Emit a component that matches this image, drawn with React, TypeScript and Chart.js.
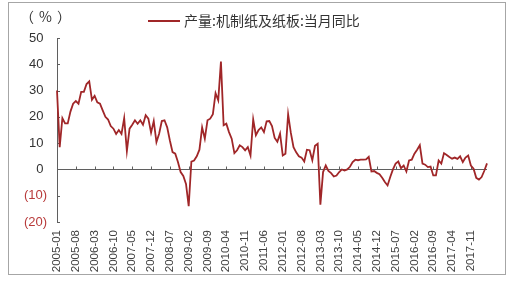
import React, { useEffect, useRef } from "react";
import { Chart, registerables } from "chart.js";

Chart.register(...registerables);

// ---- data ----
const startYear = 2005;
const monthCount = 161;
const categories: string[] = [];
for (let i = 0; i < monthCount; i++) {
  const yr = startYear + Math.floor(i / 12);
  const mo = (i % 12) + 1;
  categories.push(`${yr}-${String(mo).padStart(2, "0")}`);
}
const tickEvery = 7;
const yTicks = [50, 40, 30, 20, 10, 0, -10, -20];
const seriesLabel = "产量:机制纸及纸板:当月同比";
const unitLabel = "（%）";

const paperYoY = [
  30, 8.5, 19.5, 17.5, 17.5, 22, 25, 26, 25, 29.5, 29.5, 32.5,
  33.5, 26.5, 28, 25.5, 25, 22.5, 20, 19, 16.5, 15.5, 13.5, 15,
  13.5, 19.5, 7, 15.5, 17, 18.7, 17.4, 18.7, 17, 20.6, 19.3, 14,
  18.4, 10.4, 13.6, 18.4, 18.7, 16, 11, 6.6, 6, 2.8, -1, -2.5,
  -5.5, -14, 3, 3.4, 5, 7.5, 16, 11.7, 18.7, 19.3, 21, 29,
  26.3, 41, 16.8, 17.4, 14.2, 11.7, 6.2, 7.3, 9.2, 8.5, 7.3, 8.5,
  5.3, 19, 13, 15, 16, 14.2, 18.3, 18.4, 16.5, 12, 10.5, 13.6,
  5.3, 6, 21, 14, 8.5, 6.5, 5, 4.5, 3, 7.5, 7.3, 3.5,
  9, 9.8, -13.4, -1, 1.5, -0.6, -1.4, -2.7, -2.3, -1, 0, -0.4,
  0, 1, 2.8, 3.7, 3.5, 3.7, 3.7, 3.8, 4.8, -0.8, -0.6, -1.3,
  -1.8, -3.2, -4.8, -6.1, -2.9, 0, 2.2, 3, 0.5, 1.5, -0.8, 3.4,
  3.7, 6, 7.5, 9.2, 2.2, 1.8, 0.9, 1.1, -2.3, -2.3, 3.4, 2.2,
  6.2, 5.5, 4.7, 4.1, 4.5, 4, 5, 2.8, 4.5, 5.3, 1.5, 0.3,
  -3.2, -3.9, -2.9, -0.5, 2.3,
];

// ---- styles ----
const LINE_COLOR = "#a02628";
const AXIS_COLOR = "#5f5f5f";
const TEXT_COLOR = "#333333";
const NEG_COLOR = "#b83a3a";
const FONT = '"Liberation Sans", Arial, "Noto Sans CJK SC", sans-serif';
const CJK_FONT = '"Noto Sans CJK SC", "Liberation Sans", sans-serif';

const overlay = {
  id: "overlay",
  beforeDatasetsDraw(chart: any) {
    const { ctx, chartArea, scales } = chart;
    const xs = scales.x;
    const ys = scales.y;
    const y0 = Math.round(ys.getPixelForValue(0)) + 0.5;
    ctx.save();
    ctx.strokeStyle = AXIS_COLOR;
    ctx.lineWidth = 1;
    ctx.beginPath();
    ctx.moveTo(chartArea.left, y0);
    ctx.lineTo(chartArea.right, y0);
    for (let i = 0; i < categories.length; i += tickEvery) {
      const px = Math.round(xs.getPixelForValue(i)) + 0.5;
      ctx.moveTo(px, y0);
      ctx.lineTo(px, y0 - 3);
    }
    for (const v of yTicks) {
      const py = Math.round(ys.getPixelForValue(v)) + 0.5;
      ctx.moveTo(chartArea.left, py);
      ctx.lineTo(chartArea.left + 3, py);
    }
    ctx.stroke();
    ctx.restore();
  },
  afterDraw(chart: any) {
    const { ctx } = chart;
    ctx.save();
    // unit label
    ctx.fillStyle = TEXT_COLOR;
    ctx.font = `14px ${CJK_FONT}`;
    ctx.textBaseline = "middle";
    ctx.textAlign = "left";
    try {
      (ctx as any).letterSpacing = "5px";
    } catch (e) {}
    ctx.fillText(unitLabel, 20, 17);
    try {
      (ctx as any).letterSpacing = "0px";
    } catch (e) {}
    // legend
    ctx.strokeStyle = LINE_COLOR;
    ctx.lineWidth = 2;
    ctx.beginPath();
    ctx.moveTo(148, 21);
    ctx.lineTo(180, 21);
    ctx.stroke();
    ctx.fillStyle = TEXT_COLOR;
    ctx.fillText(seriesLabel, 184, 21);
    ctx.restore();
  },
};

export default function App() {
  const canvasRef = useRef<HTMLCanvasElement | null>(null);

  useEffect(() => {
    if (!canvasRef.current) return;
    const chart = new Chart(canvasRef.current, {
      type: "line",
      data: {
        labels: categories,
        datasets: [
          {
            label: seriesLabel,
            data: paperYoY,
            borderColor: LINE_COLOR,
            backgroundColor: LINE_COLOR,
            borderWidth: 1.8,
            pointRadius: 0,
            tension: 0,
            fill: false,
          },
        ],
      },
      options: {
        responsive: false,
        animation: false,
        devicePixelRatio: 1,
        layout: { padding: { left: 0, right: 34, top: 38, bottom: 0 } },
        plugins: { legend: { display: false }, tooltip: { enabled: false } },
        scales: {
          x: {
            type: "category",
            offset: false,
            grid: { display: false, drawTicks: false },
            border: { display: false },
            ticks: {
              autoSkip: false,
              maxRotation: 90,
              minRotation: 90,
              padding: 8,
              color: "#404040",
              font: { family: FONT, size: 11.5 },
              callback: (_v: any, i: number) => (i % tickEvery === 0 ? categories[i] : null),
            },
            afterFit: (s: any) => {
              s.height = 64;
            },
          },
          y: {
            min: -20,
            max: 50,
            grid: { display: false, drawTicks: false },
            border: { display: true, color: AXIS_COLOR, width: 1 },
            afterBuildTicks: (s: any) => {
              s.ticks = yTicks.map((v) => ({ value: v }));
            },
            ticks: {
              padding: 10,
              font: { family: FONT, size: 13 },
              color: (c: any) => (c.tick && c.tick.value < 0 ? NEG_COLOR : TEXT_COLOR),
              callback: (v: any) => (v < 0 ? `(${-v})` : `${v} `),
            },
            afterFit: (s: any) => {
              s.width = 57;
            },
          },
        },
      },
      plugins: [overlay],
    } as any);
    return () => chart.destroy();
  }, []);

  return (
    <div>
      <div style={{ position: "absolute", left: 0, top: 0, width: 521, height: 286 }}>
        <canvas ref={canvasRef} width={521} height={286} style={{ display: "block" }} />
      </div>
      <div
        style={{
          position: "absolute",
          left: 8,
          top: 2,
          width: 498,
          height: 273,
          border: "1px solid #a6a6a6",
          boxSizing: "border-box",
          pointerEvents: "none",
        }}
      />
    </div>
  );
}
